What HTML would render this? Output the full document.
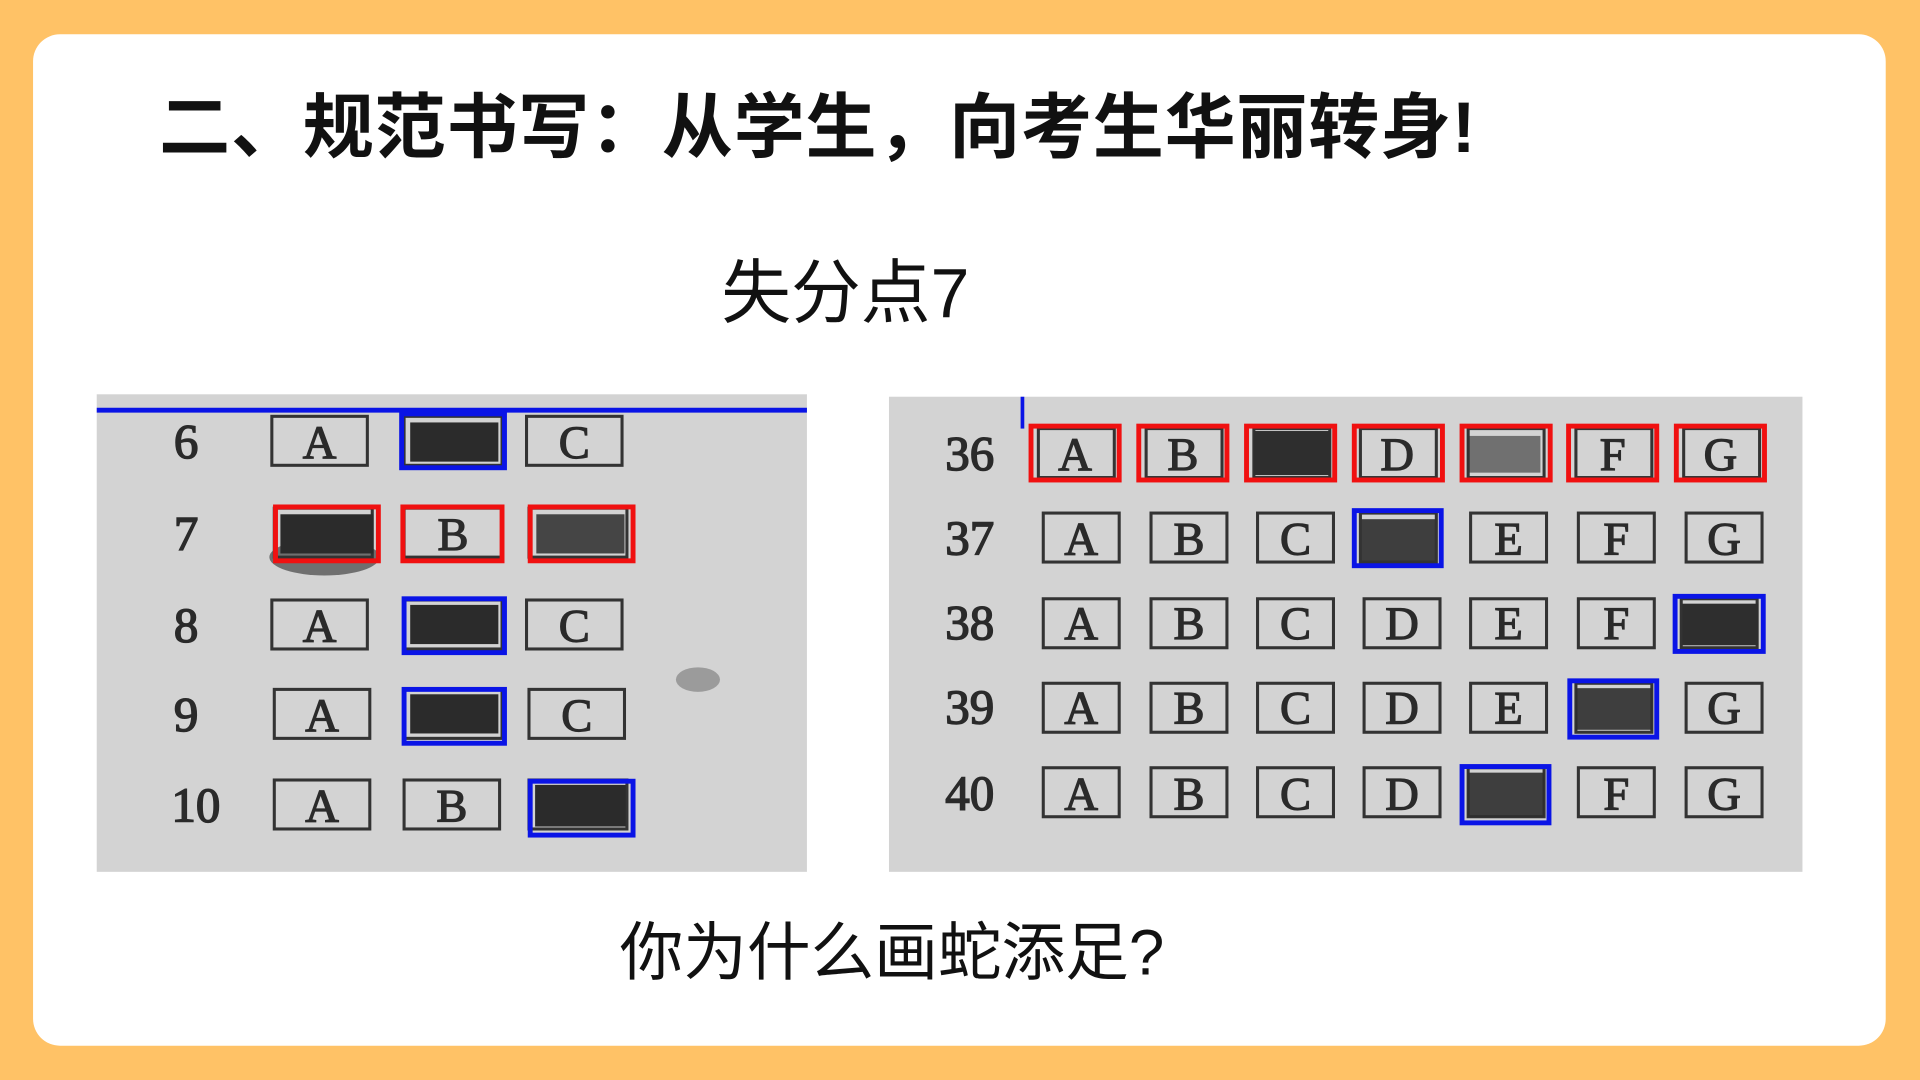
<!DOCTYPE html>
<html><head><meta charset="utf-8"><style>
html,body{margin:0;padding:0;width:1920px;height:1080px;overflow:hidden;background:#FFC266;}
svg{display:block}
</style></head><body>
<svg width="1920" height="1080" viewBox="0 0 1568 882" xmlns="http://www.w3.org/2000/svg">
<rect x="0" y="0" width="1568" height="882" fill="#FFC266"/>
<rect x="27" y="28" width="1513" height="826" rx="22" fill="#ffffff"/>
<text x="130" y="124" textLength="1075" lengthAdjust="spacing" font-family="'Liberation Sans','Noto Sans CJK SC',sans-serif" font-weight="bold" font-size="58" fill="#111">二、规范书写：从学生，向考生华丽转身!</text>
<text x="589" y="259" font-family="'Liberation Sans','Noto Sans CJK SC',sans-serif" font-size="57" fill="#111">失分点7</text>
<text x="506" y="796" font-family="'Liberation Sans','Noto Sans CJK SC',sans-serif" font-size="52" fill="#111">你为什么画蛇添足?</text>

<!-- left image -->
<rect x="79" y="322" width="580" height="390" fill="#d3d3d3"/>
<line x1="79" y1="335" x2="659" y2="335" stroke="#0a14e6" stroke-width="4"/>
<ellipse cx="570" cy="555" rx="18" ry="10" fill="#777" opacity="0.6"/>
<ellipse cx="265" cy="455" rx="45" ry="15" fill="#444" opacity="0.7"/>
<g font-family="'Liberation Serif',serif" font-size="40" fill="#2a2a2a" stroke="#2a2a2a" stroke-width="1.2" text-anchor="middle">
<text x="152" y="374">6</text><text x="152" y="449">7</text><text x="152" y="524">8</text><text x="152" y="597">9</text><text x="160" y="671">10</text>
</g>
<g fill="none" stroke="#333" stroke-width="2.5">
<rect x="222" y="340" width="78" height="40"/><rect x="330" y="340" width="80" height="40"/><rect x="430" y="340" width="78" height="40"/>
<rect x="224" y="415" width="80" height="40"/><rect x="330" y="415" width="80" height="40"/><rect x="432" y="415" width="80" height="40"/>
<rect x="222" y="490" width="78" height="40"/><rect x="330" y="490" width="80" height="40"/><rect x="430" y="490" width="78" height="40"/>
<rect x="224" y="563" width="78" height="40"/><rect x="330" y="563" width="80" height="40"/><rect x="432" y="563" width="78" height="40"/>
<rect x="224" y="637" width="78" height="40"/><rect x="330" y="637" width="78" height="40"/><rect x="432" y="637" width="80" height="40"/>
</g>
<g font-family="'Liberation Serif',serif" font-size="38" fill="#2a2a2a" stroke="#2a2a2a" stroke-width="1" text-anchor="middle">
<text x="261" y="374">A</text><text x="469" y="374">C</text>
<text x="370" y="449">B</text>
<text x="261" y="524">A</text><text x="469" y="524">C</text>
<text x="263" y="597">A</text><text x="471" y="597">C</text>
<text x="263" y="671">A</text><text x="369" y="671">B</text>
</g>
<g fill="#2b2b2b">
<rect x="335" y="345" width="72" height="32"/>
<rect x="229" y="420" width="76" height="32"/>
<rect x="438" y="420" width="72" height="32" opacity="0.85"/>
<rect x="335" y="494" width="72" height="32"/>
<rect x="335" y="567" width="72" height="32"/>
<rect x="437" y="641" width="74" height="34"/>
</g>
<g fill="none" stroke-width="4">
<rect x="328" y="338" width="84" height="44" stroke="#0a14e6"/>
<rect x="225" y="414" width="84" height="44" stroke="#f01010"/>
<rect x="329" y="414" width="81" height="44" stroke="#f01010"/>
<rect x="433" y="414" width="84" height="44" stroke="#f01010"/>
<rect x="330" y="489" width="82" height="44" stroke="#0a14e6"/>
<rect x="330" y="563" width="82" height="44" stroke="#0a14e6"/>
<rect x="433" y="638" width="84" height="44" stroke="#0a14e6"/>
</g>

<!-- right image -->
<rect x="726" y="324" width="746" height="388" fill="#d3d3d3"/>
<line x1="835" y1="324" x2="835" y2="350" stroke="#0a14e6" stroke-width="3"/>
<g font-family="'Liberation Serif',serif" font-size="40" fill="#2a2a2a" stroke="#2a2a2a" stroke-width="1.2" text-anchor="middle">
<text x="792" y="384">36</text><text x="792" y="453">37</text><text x="792" y="522">38</text><text x="792" y="591">39</text><text x="792" y="661">40</text>
</g>
<g fill="none" stroke="#333" stroke-width="2.5">
<rect x="848" y="350" width="62" height="40"/><rect x="936" y="350" width="62" height="40"/><rect x="1024" y="350" width="62" height="40"/><rect x="1111" y="350" width="62" height="40"/><rect x="1199" y="350" width="62" height="40"/><rect x="1287" y="350" width="62" height="40"/><rect x="1375" y="350" width="62" height="40"/>
<rect x="852" y="419" width="62" height="40"/><rect x="940" y="419" width="62" height="40"/><rect x="1027" y="419" width="62" height="40"/><rect x="1111" y="419" width="62" height="40"/><rect x="1201" y="419" width="62" height="40"/><rect x="1289" y="419" width="62" height="40"/><rect x="1377" y="419" width="62" height="40"/>
<rect x="852" y="489" width="62" height="40"/><rect x="940" y="489" width="62" height="40"/><rect x="1027" y="489" width="62" height="40"/><rect x="1114" y="489" width="62" height="40"/><rect x="1201" y="489" width="62" height="40"/><rect x="1289" y="489" width="62" height="40"/><rect x="1373" y="489" width="62" height="40"/>
<rect x="852" y="558" width="62" height="40"/><rect x="940" y="558" width="62" height="40"/><rect x="1027" y="558" width="62" height="40"/><rect x="1114" y="558" width="62" height="40"/><rect x="1201" y="558" width="62" height="40"/><rect x="1287" y="558" width="62" height="40"/><rect x="1377" y="558" width="62" height="40"/>
<rect x="852" y="627" width="62" height="40"/><rect x="940" y="627" width="62" height="40"/><rect x="1027" y="627" width="62" height="40"/><rect x="1114" y="627" width="62" height="40"/><rect x="1199" y="627" width="62" height="40"/><rect x="1289" y="627" width="62" height="40"/><rect x="1377" y="627" width="62" height="40"/>
</g>
<g font-family="'Liberation Serif',serif" font-size="38" fill="#2a2a2a" stroke="#2a2a2a" stroke-width="1" text-anchor="middle">
<text x="878" y="384">A</text><text x="966" y="384">B</text><text x="1141" y="384">D</text><text x="1317" y="384">F</text><text x="1405" y="384">G</text>
<text x="883" y="453">A</text><text x="971" y="453">B</text><text x="1058" y="453">C</text><text x="1232" y="453">E</text><text x="1320" y="453">F</text><text x="1408" y="453">G</text>
<text x="883" y="522">A</text><text x="971" y="522">B</text><text x="1058" y="522">C</text><text x="1145" y="522">D</text><text x="1232" y="522">E</text><text x="1320" y="522">F</text>
<text x="883" y="591">A</text><text x="971" y="591">B</text><text x="1058" y="591">C</text><text x="1145" y="591">D</text><text x="1232" y="591">E</text><text x="1408" y="591">G</text>
<text x="883" y="661">A</text><text x="971" y="661">B</text><text x="1058" y="661">C</text><text x="1145" y="661">D</text><text x="1320" y="661">F</text><text x="1408" y="661">G</text>
</g>
<g fill="#2e2e2e">
<rect x="1024" y="352" width="62" height="36"/>
<rect x="1200" y="356" width="58" height="30" opacity="0.6"/>
<rect x="1112" y="424" width="60" height="34" opacity="0.9"/>
<rect x="1374" y="493" width="62" height="34"/>
<rect x="1287" y="562" width="62" height="34" opacity="0.9"/>
<rect x="1199" y="631" width="62" height="36" opacity="0.9"/>
</g>
<g fill="none" stroke-width="4">
<rect x="842" y="348" width="72" height="44" stroke="#f01010"/>
<rect x="930" y="348" width="72" height="44" stroke="#f01010"/>
<rect x="1018" y="348" width="72" height="44" stroke="#f01010"/>
<rect x="1106" y="348" width="72" height="44" stroke="#f01010"/>
<rect x="1194" y="348" width="72" height="44" stroke="#f01010"/>
<rect x="1281" y="348" width="72" height="44" stroke="#f01010"/>
<rect x="1369" y="348" width="72" height="44" stroke="#f01010"/>
<rect x="1106" y="417" width="71" height="45" stroke="#0a14e6"/>
<rect x="1368" y="487" width="72" height="45" stroke="#0a14e6"/>
<rect x="1282" y="556" width="71" height="46" stroke="#0a14e6"/>
<rect x="1194" y="626" width="71" height="46" stroke="#0a14e6"/>
</g>
</svg>
</body></html>
